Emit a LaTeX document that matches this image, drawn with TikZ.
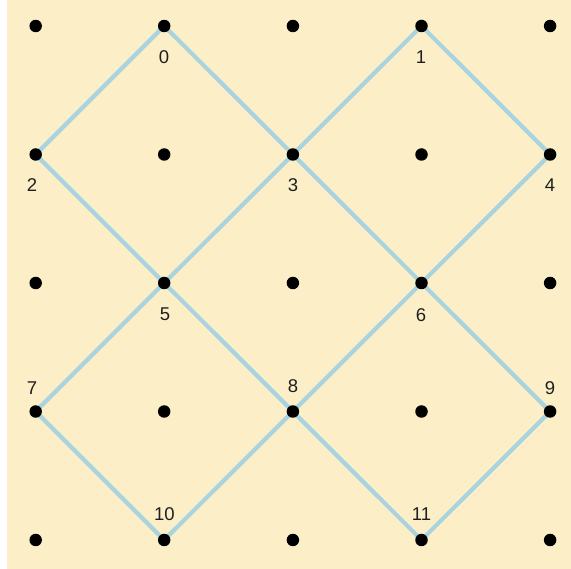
\documentclass[tikz,border=0pt]{standalone}
\usepackage{fontspec}
\setmainfont{Liberation Sans}
\definecolor{bgyellow}{HTML}{FCEFC7}
\definecolor{edgeblue}{HTML}{A9D4DF}
\begin{document}
\begin{tikzpicture}[x=1pt,y=-1pt,
  dotnode/.style={circle,fill=black,inner sep=0pt,minimum size=12.5pt},
  lbl/.style={inner sep=0pt,font=\fontsize{18.5}{18.5}\selectfont,text=black!88},
  edge/.style={draw=edgeblue,line width=4.2pt}]
\useasboundingbox (0,0) rectangle (571,569);
\fill[white] (0,0) rectangle (571,569);
\fill[bgyellow] (7,0) rectangle (571,569);
% grid coordinates (column, row)
\foreach \c/\xx in {0/35.7,1/164.2,2/292.9,3/421.5,4/550.1}{
  \foreach \r/\yy in {0/26,1/154.5,2/283,3/411.5,4/540}{
    \coordinate (g\c\r) at (\xx,\yy);
  }
}
% numbered vertices
\coordinate (v0) at (g10);
\coordinate (v1) at (g30);
\coordinate (v2) at (g01);
\coordinate (v3) at (g21);
\coordinate (v4) at (g41);
\coordinate (v5) at (g12);
\coordinate (v6) at (g32);
\coordinate (v7) at (g03);
\coordinate (v8) at (g23);
\coordinate (v9) at (g43);
\coordinate (v10) at (g14);
\coordinate (v11) at (g34);
% edges
\foreach \a/\b in {0/2,0/3,1/3,1/4,2/5,3/5,3/6,4/6,5/7,5/8,6/8,6/9,7/10,8/10,8/11,9/11}{
  \draw[edge] (v\a) -- (v\b);
}
% dots
\foreach \c in {0,...,4}{
  \foreach \r in {0,...,4}{
    \node[dotnode] (d\c\r) at (g\c\r) {};
  }
}
% labels
\node[lbl] (l0) at (164,57.5) {0};
\node[lbl] (l1) at (421,57.5) {1};
\node[lbl] (l2) at (32,185) {2};
\node[lbl] (l3) at (293,185) {3};
\node[lbl] (l4) at (550,185) {4};
\node[lbl] (l5) at (165,314.5) {5};
\node[lbl] (l6) at (421,315) {6};
\node[lbl] (l7) at (32,388) {7};
\node[lbl] (l8) at (293,386.5) {8};
\node[lbl] (l9) at (550,388) {9};
\node[lbl] (l10) at (164.5,514) {10};
\node[lbl] (l11) at (421.5,514) {11};
\end{tikzpicture}
\end{document}
